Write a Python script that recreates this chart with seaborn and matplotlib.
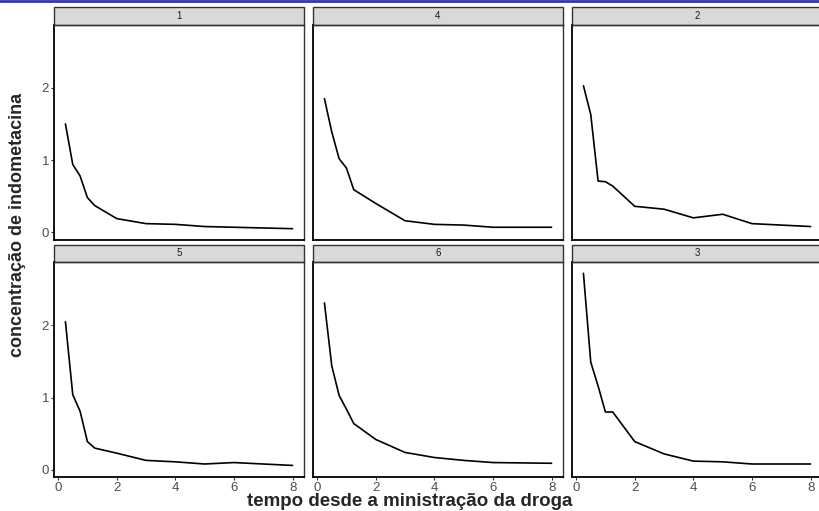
import matplotlib.pyplot as plt
import seaborn as sns
import pandas as pd
from matplotlib.patches import Rectangle
from matplotlib.lines import Line2D

# Indometh data: concentration per subject over time
times = [0.25, 0.5, 0.75, 1, 1.25, 2, 3, 4, 5, 6, 8]
subj_1 = [1.50, 0.94, 0.78, 0.48, 0.37, 0.19, 0.12, 0.11, 0.08, 0.07, 0.05]
subj_2 = [2.03, 1.63, 0.71, 0.70, 0.64, 0.36, 0.32, 0.20, 0.25, 0.12, 0.08]
subj_3 = [2.72, 1.49, 1.16, 0.80, 0.80, 0.39, 0.22, 0.12, 0.11, 0.08, 0.08]
subj_4 = [1.85, 1.39, 1.02, 0.89, 0.59, 0.40, 0.16, 0.11, 0.10, 0.07, 0.07]
subj_5 = [2.05, 1.04, 0.81, 0.39, 0.30, 0.23, 0.13, 0.11, 0.08, 0.10, 0.06]
subj_6 = [2.31, 1.44, 1.03, 0.84, 0.64, 0.42, 0.24, 0.17, 0.13, 0.10, 0.09]
panel_order = ['1', '4', '2', '5', '6', '3']
x_ticks = [0, 2, 4, 6, 8]
y_ticks = [0, 1, 2]

series = {'1': subj_1, '2': subj_2, '3': subj_3, '4': subj_4, '5': subj_5, '6': subj_6}
df = pd.concat([pd.DataFrame({'time': times, 'conc': v, 'Subject': k}) for k, v in series.items()])

sns.set_style('white')
plt.rcParams['font.family'] = ['Liberation Sans', 'DejaVu Sans']

fig, axes = plt.subplots(2, 3, figsize=(8.2, 5.11), dpi=100, sharex=True, sharey=True)
fig.subplots_adjust(left=54/820, right=822/820, top=1-25/511, bottom=1-477/511,
                    wspace=9/250, hspace=23/215)
axes = axes.flatten()

for i, s in enumerate(panel_order):
    ax = axes[i]
    d = df[df['Subject'] == s]
    sns.lineplot(data=d, x='time', y='conc', ax=ax, color='black', linewidth=1.2)
    ax.set_xlim(-0.14, 8.39)
    ax.set_ylim(-0.10, 2.87)
    ax.set_xticks(x_ticks)
    ax.set_yticks(y_ticks)
    ax.set_xlabel('')
    ax.set_ylabel('')
    ax.tick_params(axis='both', length=2.5, width=0.8, color='#333333', labelcolor='#4D4D4D',
                   labelsize=9.5, direction='out', pad=1,
                   bottom=(i >= 3), left=(i % 3 == 0))
    for sp in ['top', 'right']:
        ax.spines[sp].set_color('#333333')
        ax.spines[sp].set_linewidth(1.0)
    for sp in ['left', 'bottom']:
        ax.spines[sp].set_color('black')
        ax.spines[sp].set_linewidth(1.3)
    # facet strip
    strip_h = 18 / 215
    ax.add_patch(Rectangle((0, 1), 1, strip_h, transform=ax.transAxes, clip_on=False,
                           facecolor='#D9D9D9', edgecolor='#333333', linewidth=1.0))
    ax.text(0.5, 1 + strip_h / 2, s, transform=ax.transAxes, ha='center', va='center',
            fontsize=7, color='#1A1A1A')

fig.text(410/820, 1 - 506/511, 'tempo desde a ministração da droga',
         ha='center', va='baseline', fontsize=13.5, fontweight='bold')
fig.text(18/820, 1 - 225/511, 'concentração de indometacina', rotation=90,
         ha='center', va='center', fontsize=13, fontweight='bold',
         family=['Liberation Sans Narrow', 'Liberation Sans', 'DejaVu Sans'])

fig.add_artist(Line2D([0, 1], [1 - 1/511, 1 - 1/511], transform=fig.transFigure,
                      color='#3333B3', linewidth=2))

fig.savefig('out.png', dpi=100)
